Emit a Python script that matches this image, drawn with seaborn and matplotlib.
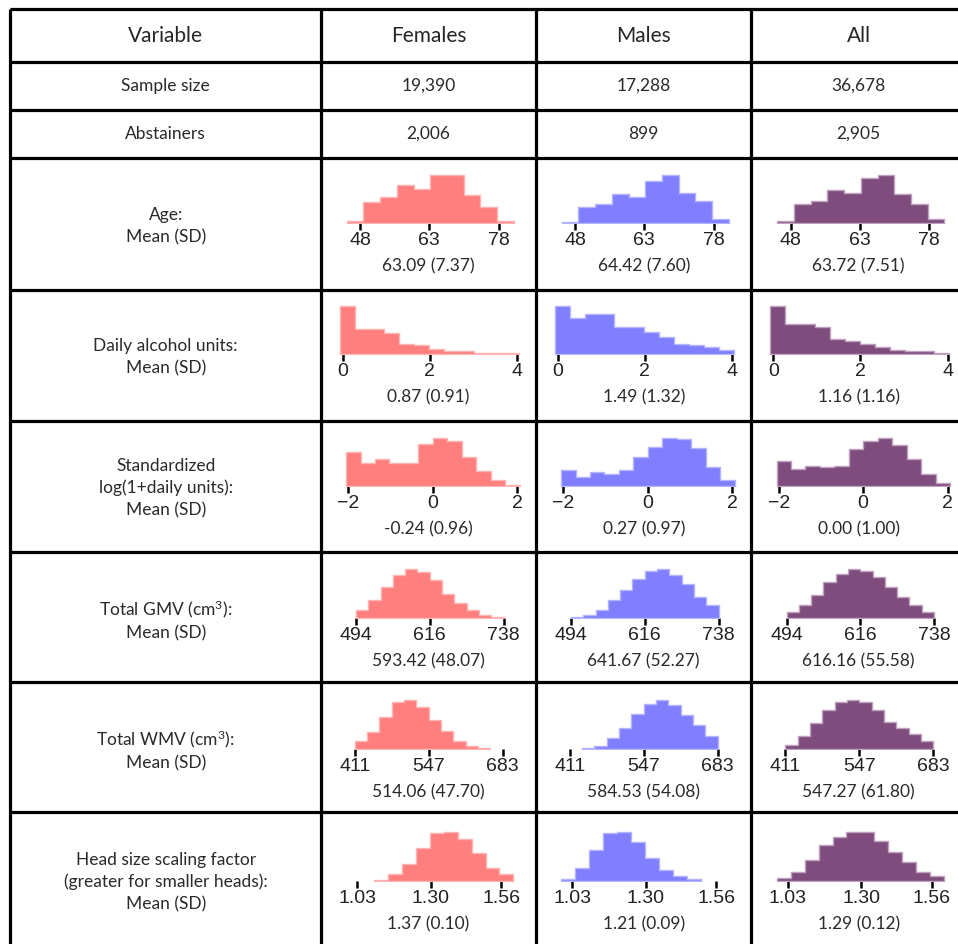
import numpy as np
import pandas as pd
import matplotlib
matplotlib.use("Agg")
import matplotlib.pyplot as plt
import seaborn as sns

sns.set_style("white")
plt.rcParams['font.family'] = ['Lato', 'DejaVu Sans']
plt.rcParams['mathtext.fontset'] = 'custom'
plt.rcParams['mathtext.rm'] = 'Lato'
plt.rcParams['mathtext.it'] = 'Lato:italic'

# ---- table values ----
groups = ['Females', 'Males', 'All']
sample_size = ['19,390', '17,288', '36,678']
abstainers = ['2,006', '899', '2,905']

# histogram heights (relative bar heights, shared bins within a row)
age_range = [45.1, 81.3]
age_ticks = [48, 63, 78]
age_tick_text = ['48', '63', '78']
age_females = [6, 62, 77, 115, 102, 145, 145, 83, 47, 6]
age_males = [4, 47, 57, 87, 77, 125, 145, 90, 66, 12]
age_all = [6, 57, 66, 100, 90, 134, 145, 87, 57, 12]
age_summary = ['63.09 (7.37)', '64.42 (7.60)', '63.72 (7.51)']

units_range = [-0.07, 4.04]
units_ticks = [0, 2, 4]
units_tick_text = ['0', '2', '4']
units_females = [145, 75, 75, 62, 31, 26, 16, 8, 8, 3, 3, 3]
units_males = [145, 109, 120, 120, 80, 80, 66, 51, 30, 26, 21, 11]
units_all = [145, 90, 90, 80, 46, 40, 31, 21, 13, 9, 9, 3]
units_summary = ['0.87 (0.91)', '1.49 (1.32)', '1.16 (1.16)']

logu_range = [-2.05, 2.06]
logu_ticks = [-2, 0, 2]
logu_tick_text = ['\u22122', '0', '2']
logu_females = [101, 68, 81, 68, 68, 126, 145, 136, 86, 46, 17, 3]
logu_males = [47, 27, 42, 37, 47, 86, 118, 145, 141, 115, 56, 17]
logu_all = [76, 51, 61, 56, 61, 110, 134, 145, 123, 81, 37, 8]
logu_summary = ['-0.24 (0.96)', '0.27 (0.97)', '0.00 (1.00)']

gmv_range = [494, 738]
gmv_ticks = [494, 616, 738]
gmv_tick_text = ['494', '616', '738']
gmv_females = [23, 53, 92, 128, 147, 137, 113, 73, 45, 23, 9, 3]
gmv_males = [3, 9, 23, 53, 83, 117, 142, 147, 128, 102, 63, 38]
gmv_all = [19, 38, 68, 107, 132, 147, 142, 122, 92, 63, 38, 19]
gmv_summary = ['593.42 (48.07)', '641.67 (52.27)', '616.16 (55.58)']

wmv_range = [411, 683]
wmv_ticks = [411, 547, 683]
wmv_tick_text = ['411', '547', '683']
wmv_females = [23, 52, 96, 141, 146, 125, 87, 53, 23, 8, 3, 0]
wmv_males = [0, 3, 8, 33, 62, 106, 136, 146, 133, 103, 73, 38]
wmv_all = [13, 38, 77, 116, 141, 146, 141, 116, 82, 62, 45, 23]
wmv_summary = ['514.06 (47.70)', '584.53 (54.08)', '547.27 (61.80)']

head_range = [0.99, 1.604]
head_ticks = [1.03, 1.30, 1.56]
head_tick_text = ['1.03', '1.30', '1.56']
head_females = [0, 0, 4, 21, 50, 98, 143, 147, 127, 83, 40, 20]
head_males = [6, 38, 93, 143, 147, 117, 68, 33, 15, 5, 0, 0]
head_all = [8, 28, 63, 108, 131, 147, 147, 121, 86, 58, 28, 15]
head_summary = ['1.37 (0.10)', '1.21 (0.09)', '1.29 (0.12)']

row_labels = ['Age:\nMean (SD)',
              'Daily alcohol units:\nMean (SD)',
              'Standardized\nlog(1+daily units):\nMean (SD)',
              'Total GMV (cm$^3$):\nMean (SD)',
              'Total WMV (cm$^3$):\nMean (SD)',
              'Head size scaling factor\n(greater for smaller heads):\nMean (SD)']

rows = [
    (age_range, age_ticks, age_tick_text, [age_females, age_males, age_all], age_summary),
    (units_range, units_ticks, units_tick_text, [units_females, units_males, units_all], units_summary),
    (logu_range, logu_ticks, logu_tick_text, [logu_females, logu_males, logu_all], logu_summary),
    (gmv_range, gmv_ticks, gmv_tick_text, [gmv_females, gmv_males, gmv_all], gmv_summary),
    (wmv_range, wmv_ticks, wmv_tick_text, [wmv_females, wmv_males, wmv_all], wmv_summary),
    (head_range, head_ticks, head_tick_text, [head_females, head_males, head_all], head_summary),
]

# ---- layout (pixels) ----
W, H = 958, 944
col_x = [10.5, 321, 536, 751.5, 966]
row_y = [9, 62, 110, 157.5, 289.5, 420.5, 551.5, 681.5, 812, 960]
baselines = [223, 354, 486, 618, 749, 881]
label_y = [226, 357, 488, 620, 750, 882]
tick_px = [(39, 177.7), (21.7, 196.1), (27.2, 196), (35, 182.5), (33.7, 181.8), (36.2, 180.4)]
fills = ['#FF7F7F', '#7F7FFF', '#7E4D7E']
edges_c = ['#FFB3B3', '#B3B3FF', '#BFA0BF']
txt = dict(ha='center', va='center', fontsize=12.5, color='#2a2a2a')

fig = plt.figure(figsize=(W / 100, H / 100), dpi=100)
bg = fig.add_axes([0, 0, 1, 1])
bg.set_xlim(0, W)
bg.set_ylim(H, 0)
bg.axis('off')

bg.hlines(row_y, col_x[0], col_x[-1], color='black', lw=2.3)
bg.vlines(col_x, row_y[0], row_y[-1], color='black', lw=2.3)

ccx = [(col_x[i] + col_x[i + 1]) / 2 for i in range(4)]
cy = lambda i: (row_y[i] + row_y[i + 1]) / 2

bg.text(ccx[0], cy(0) + 1, 'Variable', ha='center', va='center', fontsize=15)
for j, g in enumerate(groups):
    bg.text(ccx[j + 1], cy(0) + 1, g, ha='center', va='center', fontsize=15)

bg.text(ccx[0], cy(1), 'Sample size', **txt)
bg.text(ccx[0], cy(2), 'Abstainers', **txt)
for j in range(3):
    bg.text(ccx[j + 1], cy(1), sample_size[j], **txt)
    bg.text(ccx[j + 1], cy(2), abstainers[j], **txt)


def draw_hist(ax, heights, rng, color, edge):
    n = len(heights)
    bins = np.linspace(rng[0], rng[1], n + 1)
    centers = (bins[:-1] + bins[1:]) / 2
    h = np.asarray(heights, float)
    keep = np.nonzero(h)[0]
    i0, i1 = keep[0], keep[-1] + 1
    df = pd.DataFrame({'value': centers[i0:i1], 'height': h[i0:i1]})
    sns.histplot(data=df, x='value', weights='height', bins=list(bins[i0:i1 + 1]),
                 element='step', fill=True, color=color, alpha=1,
                 edgecolor=edge, linewidth=1, ax=ax)


for r, (rng, ticks, tick_text, series, summary) in enumerate(rows):
    bg.text(ccx[0], label_y[r], row_labels[r], linespacing=1.45, **txt)
    base = baselines[r]
    lo_off, hi_off = tick_px[r]
    scale = (hi_off - lo_off) / (ticks[-1] - ticks[0])
    a0, a1 = 8, 208
    xlim = (ticks[0] + (a0 - lo_off) / scale, ticks[0] + (a1 - lo_off) / scale)
    for j in range(3):
        left = col_x[j + 1]
        ax = fig.add_axes([(left + a0) / W, (H - base) / H, (a1 - a0) / W, 50 / H])
        draw_hist(ax, series[j], rng, fills[j], edges_c[j])
        ax.set_xlim(*xlim)
        ax.set_ylim(0, 150)
        ax.set_xticks(ticks)
        ax.set_xticklabels(tick_text, family='Liberation Sans', fontsize=14, color='#222222')
        ax.set_yticks([])
        ax.set_xlabel('')
        ax.set_ylabel('')
        ax.tick_params(axis='x', length=5, width=1.8, color='black', pad=1.5, bottom=True)
        for s in ax.spines.values():
            s.set_visible(False)
        ax.patch.set_alpha(0)
        bg.text(left + (col_x[j + 2] - left) / 2, base + 43, summary[j], **txt)

fig.savefig('out.png', dpi=100)
